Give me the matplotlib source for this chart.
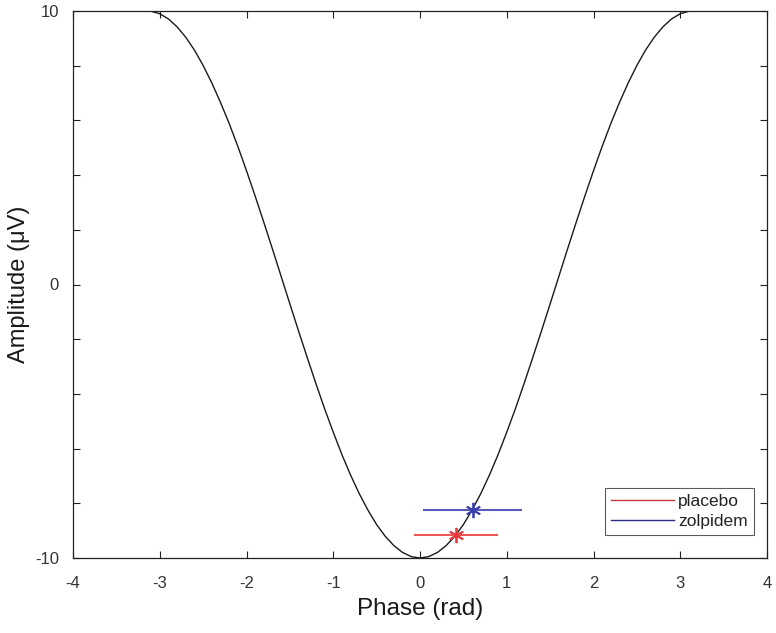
import matplotlib
matplotlib.use("Agg")
import matplotlib.pyplot as plt
from matplotlib.ticker import FixedLocator
from matplotlib.lines import Line2D

plt.rcParams['font.family'] = ['Liberation Sans', 'DejaVu Sans']
plt.rcParams['axes.unicode_minus'] = False

# Curve samples (phase in rad, amplitude in uV)
phase = [-3.14, -3.1, -3.0, -2.9, -2.8, -2.7, -2.6, -2.5, -2.4, -2.3, -2.2, -2.1,
         -2.0, -1.9, -1.8, -1.7, -1.6, -1.5, -1.4, -1.3, -1.2, -1.1, -1.0, -0.9,
         -0.8, -0.7, -0.6, -0.5, -0.4, -0.3, -0.2, -0.1, 0.0,
         0.1, 0.2, 0.3, 0.4, 0.5, 0.6, 0.7, 0.8, 0.9, 1.0, 1.1, 1.2, 1.3, 1.4,
         1.5, 1.6, 1.7, 1.8, 1.9, 2.0, 2.1, 2.2, 2.3, 2.4, 2.5, 2.6, 2.7, 2.8,
         2.9, 3.0, 3.1, 3.14]
amplitude = [10.00, 9.99, 9.90, 9.71, 9.42, 9.04, 8.57, 8.01, 7.37, 6.66, 5.89, 5.05,
             4.16, 3.23, 2.27, 1.29, 0.29, -0.71, -1.70, -2.67, -3.62, -4.54, -5.40, -6.22,
             -6.97, -7.65, -8.25, -8.78, -9.21, -9.55, -9.80, -9.95, -10.00,
             -9.95, -9.80, -9.55, -9.21, -8.78, -8.25, -7.65, -6.97, -6.22, -5.40, -4.54,
             -3.62, -2.67, -1.70, -0.71, 0.29, 1.29, 2.27, 3.23, 4.16, 5.05, 5.89, 6.66,
             7.37, 8.01, 8.57, 9.04, 9.42, 9.71, 9.90, 9.99, 10.00]

groups = ['placebo', 'zolpidem']
group_phase = [0.42, 0.61]
group_amp = [-9.15, -8.25]
group_lo = [-0.06, 0.05]
group_hi = [0.89, 1.16]
colors = ['#e8393b', '#3a3fb0']
legend_colors = ['#c83a3a', '#2a2a80']

fig = plt.figure(figsize=(7.76, 6.33), dpi=100)
ax = fig.add_axes([73/776, 1-558/633, (767-73)/776, (558-11)/633])

ax.plot(phase, amplitude, color='#1a1a1a', lw=1.0)

for i, g in enumerate(groups):
    ax.plot([group_lo[i], group_hi[i]], [group_amp[i], group_amp[i]],
            color=colors[i], lw=1.5, alpha=0.85)
    ax.plot([group_phase[i]], [group_amp[i]], marker=(6, 2, 0), color=colors[i],
            markersize=11, mew=1.3, linestyle='none')

handles = [Line2D([0], [0], color=legend_colors[i], lw=1.0) for i in range(2)]
leg = ax.legend(handles, groups, loc='lower right', bbox_to_anchor=(0.981, 0.042),
                fontsize=12.5, frameon=True, fancybox=False, handlelength=3.6,
                handletextpad=0.25, borderpad=0.35, labelspacing=0.25, borderaxespad=0)
leg.get_frame().set_edgecolor('#333333')
leg.get_frame().set_linewidth(0.8)
for t in leg.get_texts():
    t.set_color('#222222')

ax.set_xlim(-4, 4)
ax.set_ylim(-10, 10)
ax.set_xticks([-4, -3, -2, -1, 0, 1, 2, 3, 4])
ax.set_yticks([-10, 0, 10])
ax.yaxis.set_minor_locator(FixedLocator([-8, -6, -4, -2, 2, 4, 6, 8]))
ax.tick_params(axis='both', which='both', direction='in', top=True, right=True,
               length=5, width=0.8, color='#222222', labelsize=12, labelcolor='#333333')
ax.tick_params(axis='x', pad=13)
ax.tick_params(axis='y', pad=10)
for s in ax.spines.values():
    s.set_linewidth(0.9)
    s.set_color('#222222')

ax.set_xlabel('Phase (rad)', fontsize=17.5, color='#1a1a1a', labelpad=5)
ax.set_ylabel('Amplitude (\u03bcV)', fontsize=17, color='#1a1a1a', labelpad=4)

fig.savefig('out.png', dpi=100)
